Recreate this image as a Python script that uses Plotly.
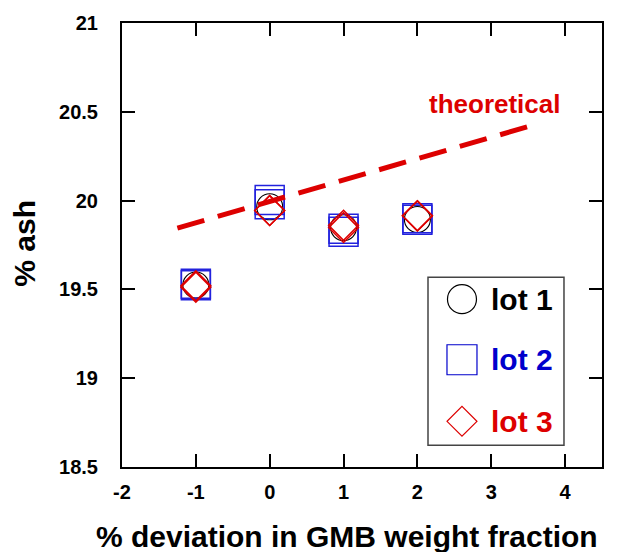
import plotly.graph_objects as go

# Deviation in GMB weight fraction (%) for each sample set
deviation = [-1, 0, 1, 2]

# Measured ash content (%), one list per replicate
lot1_ash = [19.525, 19.965, 19.848, 19.894]
lot2_ash_a = [19.532, 20.004, 19.842, 19.901]
lot2_ash_b = [19.524, 19.980, 19.824, 19.892]
lot3_ash_a = [19.520, 19.944, 19.861, 19.914]
lot3_ash_b = [19.512, 19.944, 19.848, 19.914]

# Theoretical ash content as a function of deviation
theory_dev = [-1.25, 3.57]
theory_ash = [19.845, 20.425]

# Axis ticks
x_ticks = [-2, -1, 0, 1, 2, 3, 4]
x_tick_text = ["-2", "-1", "0", "1", "2", "3", "4"]
y_ticks = [18.5, 19, 19.5, 20, 20.5, 21]
y_tick_text = ["18.5", "19", "19.5", "20", "20.5", "21"]

# Hand-built key: entry names, colours, symbols and vertical positions
key_names = ["lot 1", "lot 2", "lot 3"]
key_colors = ["#000000", "#0000cc", "#dd0000"]
key_symbols = ["circle-open", "square-open", "diamond-open"]
key_sizes = [29, 30, 23]
key_y = [0.378, 0.2416, 0.1029]

FONT = "Liberation Sans, Arial, Helvetica, sans-serif"
BLUE = "#2222dd"
RED = "#dd0000"

fig = go.Figure()

# lot 1: open circles
fig.add_trace(go.Scatter(
    x=deviation, y=lot1_ash, mode="markers", name="lot 1",
    marker=dict(symbol="circle-open", size=26, color="#000000",
                line=dict(width=1.1, color="#000000")),
    showlegend=False,
))

# lot 2: open squares (two replicates)
for ys in (lot2_ash_a, lot2_ash_b):
    fig.add_trace(go.Scatter(
        x=deviation, y=ys, mode="markers", name="lot 2",
        marker=dict(symbol="square-open", size=29, color=BLUE,
                    line=dict(width=1.5, color=BLUE)),
        showlegend=False,
    ))

# lot 3: open diamonds (two replicates)
for ys in (lot3_ash_a, lot3_ash_b):
    fig.add_trace(go.Scatter(
        x=deviation, y=ys, mode="markers", name="lot 3",
        marker=dict(symbol="diamond-open", size=23, color=RED,
                    line=dict(width=1.5, color=RED)),
        showlegend=False,
    ))

# theoretical line
fig.add_trace(go.Scatter(
    x=theory_dev, y=theory_ash, mode="lines", name="theoretical",
    line=dict(color=RED, width=5, dash="28px,14px"),
    showlegend=False,
))

# key symbols on an overlay axis spanning the plot area
for name, col, sym, sz, ky in zip(key_names, key_colors, key_symbols, key_sizes, key_y):
    fig.add_trace(go.Scatter(
        x=[0.7083], y=[ky], mode="markers", xaxis="x2", yaxis="y2",
        marker=dict(symbol=sym, size=sz, color=col,
                    line=dict(width=1.2, color=col)),
        showlegend=False, hoverinfo="skip",
    ))

annotations = []
for name, col, ky in zip(key_names, key_colors, key_y):
    annotations.append(dict(
        x=0.765, y=ky, xref="paper", yref="paper", xanchor="left", yanchor="middle",
        text="<b>%s</b>" % name, showarrow=False,
        font=dict(family=FONT, size=30, color=col),
    ))

annotations += [
    dict(x=0.777, y=0.8166, xref="paper", yref="paper", xanchor="center", yanchor="middle",
         text="<b>theoretical</b>", showarrow=False,
         font=dict(family=FONT, size=26, color=RED)),
    dict(x=0.469, y=-0.1566, xref="paper", yref="paper", xanchor="center", yanchor="middle",
         text="<b>% deviation in GMB weight fraction</b>", showarrow=False,
         font=dict(family=FONT, size=30, color="#000000")),
    dict(x=-0.202, y=0.503, xref="paper", yref="paper", xanchor="center", yanchor="middle",
         text="<b>% ash</b>", textangle=-90, showarrow=False,
         font=dict(family=FONT, size=30, color="#000000")),
]

axis_common = dict(
    showgrid=False, zeroline=False,
    showline=True, linecolor="#000000", linewidth=2, mirror="ticks",
    ticks="inside", ticklen=13, tickwidth=2, tickcolor="#000000",
    tickfont=dict(family=FONT, size=20, color="#000000"),
)

fig.update_layout(
    width=634, height=552,
    margin=dict(l=122, r=32, t=20, b=85),
    paper_bgcolor="#ffffff", plot_bgcolor="#ffffff",
    xaxis=dict(range=[-2, 4.5], tickvals=x_ticks,
               ticktext=["<b>%s</b>" % t for t in x_tick_text],
               ticklabelstandoff=6, **axis_common),
    yaxis=dict(range=[18.5, 21], tickvals=y_ticks,
               ticktext=["<b>%s</b>" % t for t in y_tick_text],
               ticklabelstandoff=18, **axis_common),
    xaxis2=dict(range=[0, 1], overlaying="x", visible=False, fixedrange=True),
    yaxis2=dict(range=[0, 1], overlaying="y", visible=False, fixedrange=True),
    shapes=[dict(type="rect", xref="paper", yref="paper",
                 x0=0.6375, x1=0.9208, y0=0.0492, y1=0.4273,
                 line=dict(color="#444444", width=1.5), layer="below")],
    annotations=annotations,
    showlegend=False,
)

fig.write_html("out.html")
